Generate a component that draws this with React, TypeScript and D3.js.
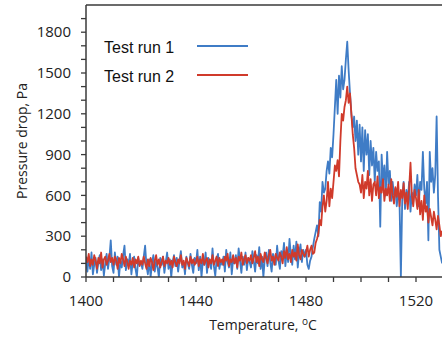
import React from "react";
import * as d3 from "d3";

const startTemp = 1400;
const stepTemp = 0.5;

const run1: number[] = [
  120, 40, 150, 60, 180, 20, 90, 140, 30, 110, 160, 50, 130, 10, 100, 170, 60, 140, 270, 80,
  30, 180, 90, 150, 0, 120, 70, 160, 230, 50, 130, 90, 170, 20, 110, 150, 60, 0, 140, 90,
  110, 60, 150, 230, 80, 20, 130, 0, 100, 160, 40, 120, 70, 0, 140, 90, 150, 30, 110, 180,
  60, 130, 0, 110, 160, 80, 140, 40, 120, 190, 70, 110, 20, 150, 100, 60, 170, 90, 30, 140,
  100, 200, 50, 150, 0, 120, 90, 180, 30, 140, 110, 60, 210, 80, 10, 130, 170, 60, 120, 90,
  150, 40, 200, 110, 70, 180, 20, 130, 100, 160, 60, 210, 120, 30, 150, 90, 180, 50, 140, 110,
  70, 190, 120, 40, 160, 100, 220, 60, 150, 0, 130, 180, 80, 200, 110, 40, 170, 140, 90, 230,
  120, 60, 190, 150, 250, 80, 200, 110, 280, 160, 90, 230, 130, 260, 70, 180, 240, 110, 200, 150,
  200, 90, 60, 120, 150, 220, 280, 330, 380, 300, 550, 480, 700, 620, 650, 780, 850, 760, 950, 880,
  1050, 1250, 1450, 1200, 1480, 1320, 1550, 1380, 1450, 1600, 1730, 1520, 1350, 1200, 1100, 1180, 1000, 1150, 900, 1120,
  850, 1100, 780, 1080, 900, 1050, 750, 1000, 820, 950, 700, 920, 780, 850, 370, 900, 700, 820, 600, 920,
  680, 780, 560, 700, 600, 650, 520, 620, 560, 0, 580, 700, 500, 640, 560, 700, 480, 620, 550, 680,
  600, 750, 520, 700, 640, 920, 650, 540, 700, 270, 920, 700, 800, 620, 750, 1180, 600, 200, 150, 100,
];

const run2: number[] = [
  150, 110, 170, 80, 130, 90, 160, 120, 60, 140, 100, 180, 70, 130, 150, 90, 120, 170, 110, 140,
  90, 150, 120, 60, 140, 100, 170, 130, 80, 150, 110, 60, 120, 90, 140, 70, 130, 100, 150, 80,
  120, 90, 150, 100, 60, 130, 80, 140, 110, 50, 120, 160, 90, 130, 70, 110, 150, 80, 120, 100,
  140, 90, 120, 70, 150, 110, 80, 130, 100, 160, 90, 120, 60, 140, 110, 80, 150, 100, 130, 90,
  110, 150, 80, 130, 100, 170, 90, 120, 140, 70, 130, 100, 160, 90, 120, 150, 80, 140, 110, 130,
  90, 150, 120, 170, 80, 130, 110, 160, 100, 140, 70, 150, 120, 180, 90, 130, 160, 100, 140, 120,
  160, 100, 140, 190, 110, 150, 80, 170, 130, 110, 180, 140, 100, 160, 200, 120, 150, 90, 170, 140,
  120, 180, 150, 100, 190, 140, 220, 130, 170, 110, 200, 150, 180, 120, 240, 160, 130, 200, 170, 150,
  180, 230, 150, 200, 230, 170, 180, 250, 280, 320, 420, 380, 520, 600, 480, 560, 700, 520, 650, 580,
  700, 820, 780, 860, 740, 1000, 1200, 1150, 1250, 1300, 1400, 1280, 1350, 1200, 1050, 950, 800, 750, 700, 680,
  620, 750, 580, 700, 650, 780, 600, 720, 560, 680, 700, 600, 740, 580, 660, 620, 720, 560, 650, 600,
  680, 560, 720, 600, 540, 660, 590, 700, 520, 640, 580, 690, 540, 620, 500, 650, 840, 600, 520, 640,
  580, 500, 640, 460, 560, 420, 600, 480, 520, 400, 500, 440, 380, 480, 420, 350, 450, 380, 300, 340,
];

const yTickLabels = [0, 300, 600, 900, 1200, 1500, 1800];
const xTickLabels = [1400, 1440, 1480, 1520];
const seriesNames = ["Test run 1", "Test run 2"];
const seriesColors = ["#3f7cc6", "#d03a2b"];

export default function App() {
  const W = 442;
  const H = 337;
  const left = 86;
  const top = 5;
  const bottom = 277;
  const right = 442;

  const x = d3.scaleLinear().domain([1400, 1530]).range([left, left + 130 * 2.75]);
  const y = d3.scaleLinear().domain([0, 2000]).range([bottom, top]);

  const line = d3
    .line<number>()
    .x((_, i) => x(startTemp + i * stepTemp))
    .y((v) => y(v));

  const xMinor = d3.range(1400, 1530, 10);
  const yMinor = d3.range(0, 2000, 100);
  const axisColor = "#3a3a3a";
  const font = "'Open Sans', 'Liberation Sans', Arial, sans-serif";

  return (
    <svg
      width={W}
      height={H}
      style={{ position: "absolute", left: 0, top: 0, background: "#fff" }}
    >
      <defs>
        <clipPath id="plot">
          <rect x={left} y={top} width={right - left} height={bottom - top} />
        </clipPath>
      </defs>
      <g clipPath="url(#plot)">
        <path d={line(run1) || ""} fill="none" stroke={seriesColors[0]} strokeWidth={1.8} strokeLinejoin="round" />
        <path d={line(run2) || ""} fill="none" stroke={seriesColors[1]} strokeWidth={1.8} strokeLinejoin="round" />
      </g>
      <line x1={left} x2={right} y1={top} y2={top} stroke={axisColor} strokeWidth={1.5} />
      <line x1={left} x2={left} y1={top} y2={bottom} stroke={axisColor} strokeWidth={1.5} />
      <line x1={left} x2={right} y1={bottom} y2={bottom} stroke={axisColor} strokeWidth={1.5} />
      {yMinor.map((v) => (
        <line key={"yt" + v} x1={left - 5} x2={left} y1={y(v)} y2={y(v)} stroke={axisColor} strokeWidth={1.3} />
      ))}
      {xMinor.map((v) => (
        <line key={"xt" + v} x1={x(v)} x2={x(v)} y1={bottom} y2={bottom + 5} stroke={axisColor} strokeWidth={1.3} />
      ))}
      {yTickLabels.map((v) => (
        <text key={"yl" + v} x={71} y={y(v)} dy="0.35em" textAnchor="end" fontFamily={font} fontSize={15} fill="#222">
          {v}
        </text>
      ))}
      {xTickLabels.map((v) => (
        <text key={"xl" + v} x={x(v)} y={306} textAnchor="middle" fontFamily={font} fontSize={15} fill="#222">
          {v}
        </text>
      ))}
      <text x={263} y={330} textAnchor="middle" fontFamily={font} fontSize={14} fill="#222">
        Temperature, <tspan dy={-5} fontSize={10}>o</tspan>
        <tspan dy={5}>C</tspan>
      </text>
      <text
        transform={`translate(27,141) rotate(-90)`}
        textAnchor="middle"
        fontFamily={font}
        fontSize={14}
        fill="#222"
      >
        Pressure drop, Pa
      </text>
      {seriesNames.map((name, i) => (
        <g key={name}>
          <text x={104} y={47 + i * 29} dy="0.35em" fontFamily="'Liberation Sans', Arial, sans-serif" fontSize={16} fill="#111">
            {name}
          </text>
          <line x1={197} x2={248} y1={46 + i * 29} y2={46 + i * 29} stroke={seriesColors[i]} strokeWidth={2} />
        </g>
      ))}
    </svg>
  );
}
